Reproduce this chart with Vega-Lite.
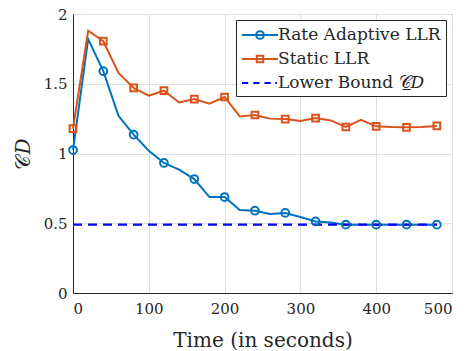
{
  "$schema": "https://vega.github.io/schema/vega-lite/v6.json",
  "width": 379,
  "height": 279,
  "autosize": {"type": "none"},
  "padding": {"left": 73, "top": 14, "right": 22, "bottom": 58},
  "background": "white",
  "config": {
    "view": {"stroke": "#262626", "strokeWidth": 1},
    "font": "DejaVu Serif",
    "axis": {
      "gridColor": "#dfdfdf",
      "gridWidth": 1,
      "domainColor": "#262626",
      "tickColor": "#262626",
      "labelColor": "#262626",
      "titleColor": "#262626",
      "labelFont": "DejaVu Serif",
      "titleFont": "DejaVu Serif",
      "labelFontSize": 15,
      "titleFontSize": 20,
      "titleFontWeight": "normal"
    },
    "legend": {
      "labelFont": "DejaVu Serif",
      "labelFontSize": 17,
      "labelColor": "#262626",
      "labelLimit": 300
    }
  },
  "data": {
    "values": [
      {"t": 0, "series": "Rate Adaptive LLR", "value": 1.025},
      {"t": 20, "series": "Rate Adaptive LLR", "value": 1.82},
      {"t": 40, "series": "Rate Adaptive LLR", "value": 1.59},
      {"t": 60, "series": "Rate Adaptive LLR", "value": 1.27},
      {"t": 80, "series": "Rate Adaptive LLR", "value": 1.135},
      {"t": 100, "series": "Rate Adaptive LLR", "value": 1.02},
      {"t": 120, "series": "Rate Adaptive LLR", "value": 0.932},
      {"t": 140, "series": "Rate Adaptive LLR", "value": 0.884},
      {"t": 160, "series": "Rate Adaptive LLR", "value": 0.817},
      {"t": 180, "series": "Rate Adaptive LLR", "value": 0.688},
      {"t": 200, "series": "Rate Adaptive LLR", "value": 0.688},
      {"t": 220, "series": "Rate Adaptive LLR", "value": 0.595},
      {"t": 240, "series": "Rate Adaptive LLR", "value": 0.59},
      {"t": 260, "series": "Rate Adaptive LLR", "value": 0.566},
      {"t": 280, "series": "Rate Adaptive LLR", "value": 0.574},
      {"t": 300, "series": "Rate Adaptive LLR", "value": 0.545},
      {"t": 320, "series": "Rate Adaptive LLR", "value": 0.513},
      {"t": 340, "series": "Rate Adaptive LLR", "value": 0.506},
      {"t": 360, "series": "Rate Adaptive LLR", "value": 0.49},
      {"t": 380, "series": "Rate Adaptive LLR", "value": 0.49},
      {"t": 400, "series": "Rate Adaptive LLR", "value": 0.49},
      {"t": 420, "series": "Rate Adaptive LLR", "value": 0.49},
      {"t": 440, "series": "Rate Adaptive LLR", "value": 0.49},
      {"t": 460, "series": "Rate Adaptive LLR", "value": 0.49},
      {"t": 480, "series": "Rate Adaptive LLR", "value": 0.49},
      {"t": 0, "series": "Static LLR", "value": 1.178},
      {"t": 20, "series": "Static LLR", "value": 1.88},
      {"t": 40, "series": "Static LLR", "value": 1.805},
      {"t": 60, "series": "Static LLR", "value": 1.577},
      {"t": 80, "series": "Static LLR", "value": 1.47},
      {"t": 100, "series": "Static LLR", "value": 1.414},
      {"t": 120, "series": "Static LLR", "value": 1.45},
      {"t": 140, "series": "Static LLR", "value": 1.366},
      {"t": 160, "series": "Static LLR", "value": 1.39},
      {"t": 180, "series": "Static LLR", "value": 1.357},
      {"t": 200, "series": "Static LLR", "value": 1.405},
      {"t": 220, "series": "Static LLR", "value": 1.266},
      {"t": 240, "series": "Static LLR", "value": 1.276},
      {"t": 260, "series": "Static LLR", "value": 1.25},
      {"t": 280, "series": "Static LLR", "value": 1.247},
      {"t": 300, "series": "Static LLR", "value": 1.233},
      {"t": 320, "series": "Static LLR", "value": 1.254},
      {"t": 340, "series": "Static LLR", "value": 1.237},
      {"t": 360, "series": "Static LLR", "value": 1.19},
      {"t": 380, "series": "Static LLR", "value": 1.242},
      {"t": 400, "series": "Static LLR", "value": 1.195},
      {"t": 420, "series": "Static LLR", "value": 1.19},
      {"t": 440, "series": "Static LLR", "value": 1.188},
      {"t": 460, "series": "Static LLR", "value": 1.19},
      {"t": 480, "series": "Static LLR", "value": 1.198},
      {"t": 0, "series": "Lower Bound 𝒞̲𝐷", "value": 0.49},
      {"t": 480, "series": "Lower Bound 𝒞̲𝐷", "value": 0.49}
    ]
  },
  "encoding": {
    "x": {
      "field": "t", "type": "quantitative",
      "scale": {"domain": [0, 500], "nice": false},
      "axis": {"values": [0, 100, 200, 300, 400, 500], "title": "Time (in seconds)", "ticks": false, "labelPadding": 8, "titlePadding": 14, "grid": true}
    },
    "y": {
      "field": "value", "type": "quantitative",
      "scale": {"domain": [0, 2], "nice": false},
      "axis": {"values": [0, 0.5, 1, 1.5, 2], "title": "𝒞𝐷", "ticks": false, "labelPadding": 6, "titlePadding": 10, "labelExpr": "format(datum.value, '~g')", "grid": true}
    },
    "color": {
      "field": "series", "type": "nominal",
      "scale": {
        "domain": ["Rate Adaptive LLR", "Static LLR", "Lower Bound 𝒞̲𝐷"],
        "range": ["#0072BD", "#D95319", "#0000FF"]
      },
      "legend": null
    }
  },
  "layer": [
    {
      "transform": [{"filter": "datum.series !== 'Lower Bound 𝒞̲𝐷'"}],
      "mark": {"type": "line", "strokeWidth": 2},
      "encoding": {
        "color": {
          "field": "series", "type": "nominal",
          "legend": {
            "title": null,
            "orient": "none",
            "legendX": 163,
            "legendY": 6,
            "padding": 5,
            "strokeColor": "#262626",
            "fillColor": "white",
            "symbolSize": 324,
            "symbolStrokeWidth": 2,
            "symbolOffset": 9,
            "labelOffset": 8,
            "rowPadding": 6,
            "labelLimit": 300,
            "encode": {
              "symbols": {
                "update": {
                  "shape": {"signal": "datum.value === 'Rate Adaptive LLR' ? 'M-2,0L2,0M0.43,0A0.43,0.43,0,1,1,-0.43,0A0.43,0.43,0,1,1,0.43,0Z' : datum.value === 'Static LLR' ? 'M-2,0L2,0M-0.36,-0.36L0.36,-0.36L0.36,0.36L-0.36,0.36Z' : 'M-2,0L-1.3,0M-0.75,0L-0.05,0M0.5,0L1.2,0M1.7,0L1.9,0'"},
                  "fill": {"value": "white"}
                }
              }
            }
          }
        }
      }
    },
    {
      "transform": [{"filter": "datum.series === 'Lower Bound 𝒞̲𝐷'"}],
      "mark": {"type": "line", "strokeWidth": 2.2, "strokeDash": [9, 6]},
      "encoding": {}
    },
    {
      "transform": [{"filter": "datum.series === 'Rate Adaptive LLR' && datum.t % 40 === 0"}],
      "mark": {"type": "point", "shape": "circle", "filled": false, "strokeWidth": 2, "size": 60, "opacity": 1},
      "encoding": {}
    },
    {
      "transform": [{"filter": "datum.series === 'Static LLR' && datum.t % 40 === 0"}],
      "mark": {"type": "point", "shape": "square", "filled": false, "strokeWidth": 2, "size": 45, "opacity": 1},
      "encoding": {}
    }
  ]
}
